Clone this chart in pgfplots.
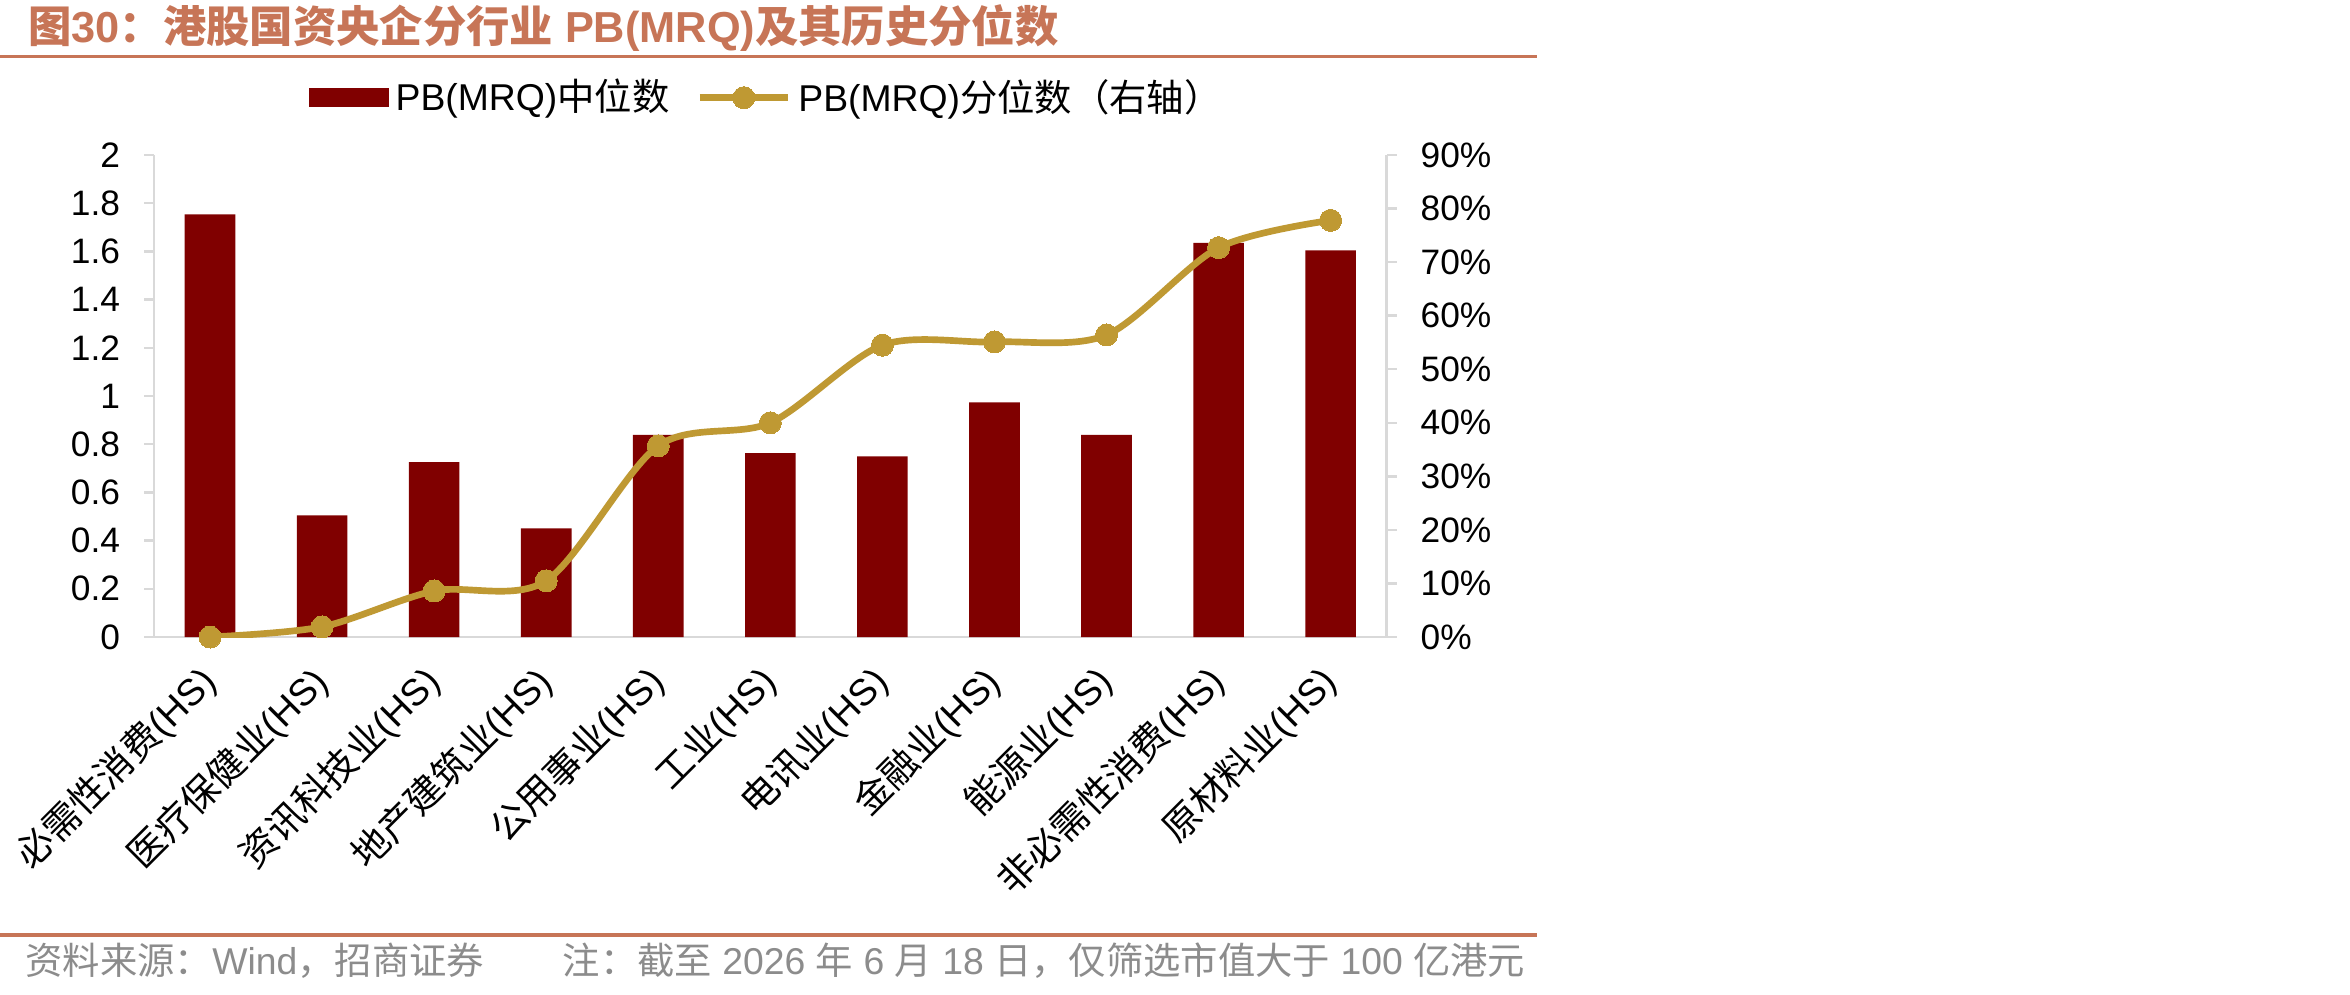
\documentclass[border=0pt]{standalone}
\usepackage{pgfplots}
\usepackage{pgfplotstable}
\pgfplotsset{compat=1.18}
\usepackage{fontspec}
\setmainfont{Liberation Sans}
\newfontfamily\cjk{Noto Sans CJK SC}
\newcommand{\zh}[1]{{\cjk #1}}

\definecolor{barred}{RGB}{128,0,0}
\definecolor{gold}{RGB}{191,153,51}
\definecolor{titlec}{RGB}{199,117,87}
\definecolor{axgray}{RGB}{217,217,217}
\definecolor{srcgray}{RGB}{140,140,140}

% PB(MRQ) median (left axis) and its historical percentile in % (right axis)
\pgfplotstableread{
idx pb    pct
0   1.754 0.0
1   0.505 1.9
2   0.726 8.6
3   0.451 10.5
4   0.839 35.7
5   0.763 40.0
6   0.750 54.5
7   0.974 55.1
8   0.839 56.4
9   1.635 72.7
10  1.604 77.8
}\datatable

\newcommand{\tickfont}{\fontsize{10.6}{12}\selectfont}
\newcommand{\lblfont}{\fontsize{11.2}{13}\selectfont}

\begin{document}
\begin{tikzpicture}
\fill[white] (0pt,0pt) rectangle (705pt,298.2pt);
\useasboundingbox (0pt,0pt) rectangle (705pt,298.2pt);

% title and rule
\node[anchor=west, inner sep=0pt, text=titlec, font=\fontsize{13}{15}\selectfont\bfseries]
  at (8.25pt,289.9pt)
  {\zh{图}30\zh{：港股国资央企分行业} PB(MRQ)\zh{及其历史分位数}};
\draw[titlec, line width=1.05pt] (0pt,281.2pt) -- (461pt,281.2pt);

% left axis: bars
\begin{axis}[
  at={(46.2pt,107.1pt)}, anchor=south west, scale only axis,
  width=369.8pt, height=144.6pt,
  xmin=-0.5, xmax=10.5, ymin=0, ymax=2,
  axis y line*=left, axis x line*=bottom,
  axis line style={draw=axgray, line width=0.75pt},
  tick align=outside, major tick length=3pt,
  ytick={0,0.2,0.4,0.6,0.8,1,1.2,1.4,1.6,1.8,2},
  yticklabels={0,0.2,0.4,0.6,0.8,1,1.2,1.4,1.6,1.8,2},
  ytick style={draw=axgray, line width=0.75pt},
  yticklabel style={font=\tickfont, inner sep=0pt, anchor=east, xshift=-7pt},
  xtick={0,...,10},
  xtick style={draw=none},
  xticklabels={
    \zh{必需性消费}(HS),\zh{医疗保健业}(HS),\zh{资讯科技业}(HS),
    \zh{地产建筑业}(HS),\zh{公用事业}(HS),\zh{工业}(HS),\zh{电讯业}(HS),
    \zh{金融业}(HS),\zh{能源业}(HS),\zh{非必需性消费}(HS),\zh{原材料业}(HS)},
  xticklabel style={font=\lblfont, rotate=45, anchor=east, inner sep=0pt},
  xticklabel shift=8.5pt,
  legend columns=2,
  legend style={draw=none, fill=none, inner sep=0pt, outer sep=0pt,
    at={(0.1257,1.119)}, anchor=west, font=\lblfont,
    column sep=0pt,
    /tikz/every even column/.append style={column sep=6pt}},
  legend cell align=left,
]
\addplot[ybar, bar width=15.2pt, fill=barred, draw=none,
  legend image code/.code={\fill[barred] (0pt,-2.85pt) rectangle (24pt,2.85pt);}]
  table[x=idx, y=pb] {\datatable};
\addlegendentry{PB(MRQ)\zh{中位数}}
\addlegendimage{gold, line width=2pt,
  legend image code/.code={%
    \draw[gold, line width=2.3pt] (0pt,0pt) -- (26.4pt,0pt);
    \draw[gold, mark=*, mark size=3.3pt, mark options={fill=gold, draw=gold, line width=0pt}]
      plot coordinates {(13.2pt,0pt)};}}
\addlegendentry{PB(MRQ)\zh{分位数（右轴）}}
\end{axis}

% right axis: percentile line
\begin{axis}[
  at={(46.2pt,107.1pt)}, anchor=south west, scale only axis,
  width=369.8pt, height=144.6pt,
  xmin=-0.5, xmax=10.5, ymin=0, ymax=90,
  axis y line*=right, axis x line=none,
  axis line style={draw=axgray, line width=0.75pt},
  tick align=outside, major tick length=3pt,
  ytick={0,10,20,30,40,50,60,70,80,90},
  yticklabels={0\%,10\%,20\%,30\%,40\%,50\%,60\%,70\%,80\%,90\%},
  ytick style={draw=axgray, line width=0.75pt},
  yticklabel style={font=\tickfont, inner sep=0pt, anchor=west, xshift=7pt},
]
\addplot[gold, line width=2pt, smooth, tension=0.5, mark=*, mark size=3.3pt,
  mark options={fill=gold, draw=gold, line width=0pt}]
  table[x=idx, y=pct] {\datatable};
\end{axis}

% source note and rule
\draw[titlec, line width=1.05pt] (0pt,17.7pt) -- (461pt,17.7pt);
\node[anchor=west, inner sep=0pt, text=srcgray, font=\lblfont] at (7.5pt,9.9pt)
  {\zh{资料来源：}Wind\zh{，招商证券}};
\node[anchor=west, inner sep=0pt, text=srcgray, font=\lblfont] at (168.6pt,9.9pt)
  {\zh{注：截至} 2026 \zh{年} 6 \zh{月} 18 \zh{日，仅筛选市值大于} 100 \zh{亿港元}};
\end{tikzpicture}
\end{document}
